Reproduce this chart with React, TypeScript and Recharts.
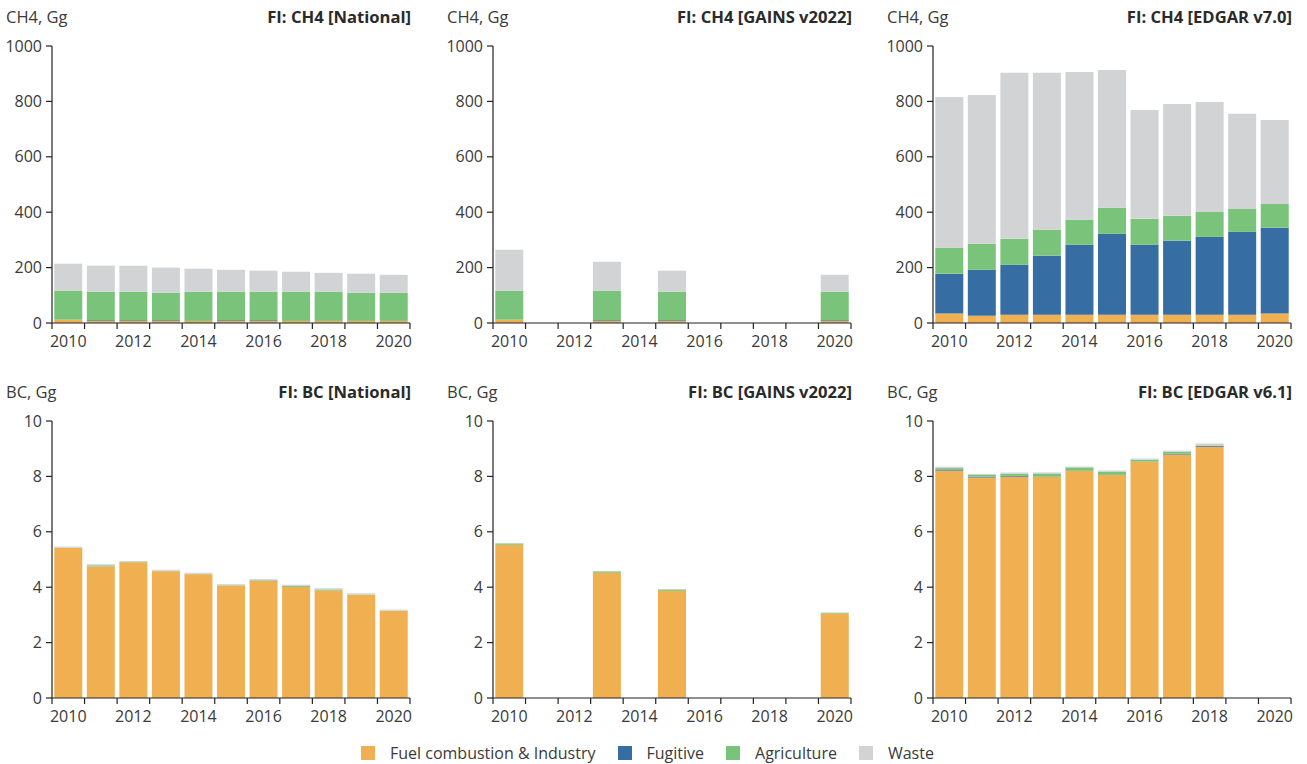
import React from 'react';
import { BarChart, Bar, XAxis, YAxis } from 'recharts';

// ---------- categories & labels ----------
const years = [2010, 2011, 2012, 2013, 2014, 2015, 2016, 2017, 2018, 2019, 2020];
const xTickLabels = ['2010', '2012', '2014', '2016', '2018', '2020'];
const ch4Ticks = [0, 200, 400, 600, 800, 1000];
const bcTicks = [0, 2, 4, 6, 8, 10];

const sectorNames = ['Fuel combustion & Industry', 'Fugitive', 'Agriculture', 'Waste'];
const sectorKeys = ['fuel', 'fugitive', 'agriculture', 'waste'];
const sectorColors = ['#F0B051', '#366EA3', '#79C47A', '#D2D3D5'];

// ---------- CH4 National ----------
const ch4NatFuel = [12, 7, 7, 7, 7, 7, 7, 7, 7, 7, 7];
const ch4NatFugitive = [0.5, 3, 3, 3, 0.5, 3, 3, 0.5, 0.5, 0.5, 0.5];
const ch4NatAgriculture = [104.5, 103, 103, 99, 105.5, 103, 103, 105.5, 105.5, 101.5, 101.5];
const ch4NatWaste = [97, 94, 94, 91, 83, 79, 76, 72, 68, 69, 65];

// ---------- CH4 GAINS v2022 ----------
const ch4GainsFuel = [12, null, null, 7, null, 7, null, null, null, null, 7];
const ch4GainsFugitive = [0.5, null, null, 3, null, 3, null, null, null, null, 3];
const ch4GainsAgriculture = [104.5, null, null, 107, null, 103, null, null, null, null, 103];
const ch4GainsWaste = [147, null, null, 104, null, 76, null, null, null, null, 61];

// ---------- CH4 EDGAR v7.0 ----------
const ch4EdgarFuel = [34, 26, 30, 30, 30, 30, 30, 30, 30, 30, 34];
const ch4EdgarFugitive = [144, 166, 180, 213, 252, 292, 252, 267, 281, 299, 310];
const ch4EdgarAgriculture = [94, 94, 94, 94, 91, 94, 94, 90, 90, 83, 86];
const ch4EdgarWaste = [544, 537, 599, 566, 533, 497, 393, 404, 397, 343, 303];

// ---------- BC National ----------
const bcNatFuel = [5.42, 4.75, 4.9, 4.58, 4.47, 4.06, 4.22, 4.01, 3.88, 3.73, 3.14];
const bcNatFugitive = [0, 0, 0, 0, 0, 0, 0, 0, 0, 0, 0];
const bcNatAgriculture = [0.005, 0.04, 0.01, 0.01, 0.01, 0.01, 0.03, 0.04, 0.04, 0.01, 0.01];
const bcNatWaste = [0.04, 0.04, 0.04, 0.04, 0.04, 0.04, 0.04, 0.04, 0.04, 0.04, 0.04];

// ---------- BC GAINS v2022 ----------
const bcGainsFuel = [5.53, null, null, 4.52, null, 3.87, null, null, null, null, 3.05];
const bcGainsFugitive = [0, null, null, 0, null, 0, null, null, null, null, 0];
const bcGainsAgriculture = [0.05, null, null, 0.05, null, 0.05, null, null, null, null, 0.03];
const bcGainsWaste = [0.005, null, null, 0.005, null, 0.005, null, null, null, null, 0.005];

// ---------- BC EDGAR v6.1 ----------
const bcEdgarFuel = [8.21, 7.96, 7.99, 7.98, 8.2, 8.05, 8.53, 8.79, 9.07, null, null];
const bcEdgarFugitive = [0.04, 0.03, 0.03, 0.005, 0.005, 0.005, 0.005, 0.03, 0.03, null, null];
const bcEdgarAgriculture = [0.05, 0.06, 0.08, 0.12, 0.12, 0.12, 0.07, 0.07, 0.02, null, null];
const bcEdgarWaste = [0.05, 0.04, 0.04, 0.04, 0.03, 0.04, 0.04, 0.04, 0.07, null, null];

const build = (fuel: any[], fugitive: any[], agriculture: any[], waste: any[]) =>
  years.map((y, i) => ({ year: String(y), fuel: fuel[i], fugitive: fugitive[i], agriculture: agriculture[i], waste: waste[i] }));

const AX = '#222222';
const TXT = '#3a3a3a';
const FONT = '"Open Sans", "Noto Sans", sans-serif';

const CHART_W = 412;
const CHART_H = 320;
const Y_W = 52;
const M_TOP = 10;
const M_RIGHT = 2;
const X_H = 33;
const PLOT_W = CHART_W - Y_W - M_RIGHT;

const XTick = (props: any) => {
  const { x, y, payload, index, visibleTicksCount } = props;
  const half = payload && typeof payload.offset === 'number' && payload.offset > 0 ? payload.offset : PLOT_W / years.length / 2;
  const label = String(payload.value);
  const isLast = index === (visibleTicksCount ?? years.length) - 1;
  return (
    <g>
      <line x1={x - half} x2={x - half} y1={y} y2={y + 6} stroke={AX} strokeWidth={1.2} />
      {isLast && <line x1={x + half} x2={x + half} y1={y} y2={y + 6} stroke={AX} strokeWidth={1.2} />}
      {xTickLabels.includes(label) && (
        <text x={x} y={y + 24} textAnchor="middle" fill={TXT} fontSize={16} fontFamily={FONT}>
          {label}
        </text>
      )}
    </g>
  );
};

type PanelProps = { left: number; top: number; unit: string; title: string; data: any[]; max: number; ticks: number[] };

const Panel = ({ left, top, unit, title, data, max, ticks }: PanelProps) => (
  <>
    <div style={{ position: 'absolute', left: left + 6, top: top - 30, height: 22, lineHeight: '22px', fontSize: 16.5, color: TXT, whiteSpace: 'nowrap' }}>
      {unit}
    </div>
    <div style={{ position: 'absolute', left: left, width: 411, top: top - 30, height: 22, lineHeight: '22px', fontSize: 16.6, fontWeight: 700, color: '#2a2a2a', textAlign: 'right', whiteSpace: 'nowrap' }}>
      {title}
    </div>
    <div style={{ position: 'absolute', left, top }}>
      <BarChart width={CHART_W} height={CHART_H} data={data} margin={{ top: M_TOP, right: M_RIGHT, left: 0, bottom: 0 }} barCategoryGap="7%">
        <XAxis dataKey="year" type="category" interval={0} height={X_H} tickSize={0} tickMargin={0} tickLine={false} axisLine={{ stroke: AX, strokeWidth: 1.2 }} tick={<XTick />} />
        <YAxis
          type="number"
          domain={[0, max]}
          ticks={ticks}
          width={Y_W}
          tickSize={6}
          tickMargin={4}
          axisLine={{ stroke: AX, strokeWidth: 1.2 }}
          tickLine={{ stroke: AX, strokeWidth: 1.2 }}
          tick={{ fill: TXT, fontSize: 16, fontFamily: FONT }}
          allowDataOverflow
        />
        {sectorKeys.map((k, i) => (
          <Bar key={k} dataKey={k} stackId="s" fill={sectorColors[i]} isAnimationActive={false} />
        ))}
      </BarChart>
    </div>
  </>
);

export default function App() {
  return (
    <div style={{ position: 'absolute', left: 0, top: 0, width: 1307, height: 764, background: '#fff', fontFamily: FONT, overflow: 'hidden' }}>
      <Panel left={0} top={36} unit="CH4, Gg" title="FI: CH4 [National]" data={build(ch4NatFuel, ch4NatFugitive, ch4NatAgriculture, ch4NatWaste)} max={1000} ticks={ch4Ticks} />
      <Panel left={441} top={36} unit="CH4, Gg" title="FI: CH4 [GAINS v2022]" data={build(ch4GainsFuel, ch4GainsFugitive, ch4GainsAgriculture, ch4GainsWaste)} max={1000} ticks={ch4Ticks} />
      <Panel left={881} top={36} unit="CH4, Gg" title="FI: CH4 [EDGAR v7.0]" data={build(ch4EdgarFuel, ch4EdgarFugitive, ch4EdgarAgriculture, ch4EdgarWaste)} max={1000} ticks={ch4Ticks} />
      <Panel left={0} top={411} unit="BC, Gg" title="FI: BC [National]" data={build(bcNatFuel, bcNatFugitive, bcNatAgriculture, bcNatWaste)} max={10} ticks={bcTicks} />
      <Panel left={441} top={411} unit="BC, Gg" title="FI: BC [GAINS v2022]" data={build(bcGainsFuel, bcGainsFugitive, bcGainsAgriculture, bcGainsWaste)} max={10} ticks={bcTicks} />
      <Panel left={881} top={411} unit="BC, Gg" title="FI: BC [EDGAR v6.1]" data={build(bcEdgarFuel, bcEdgarFugitive, bcEdgarAgriculture, bcEdgarWaste)} max={10} ticks={bcTicks} />
      <div style={{ position: 'absolute', left: 361, top: 742, height: 22, display: 'flex', alignItems: 'center', whiteSpace: 'nowrap' }}>
        {sectorNames.map((name, i) => (
          <div key={name} style={{ display: 'flex', alignItems: 'center', marginRight: 22 }}>
            <div style={{ width: 14, height: 14, background: sectorColors[i] }} />
            <span style={{ marginLeft: 15, fontSize: 16, color: TXT, lineHeight: '22px' }}>{name}</span>
          </div>
        ))}
      </div>
    </div>
  );
}
